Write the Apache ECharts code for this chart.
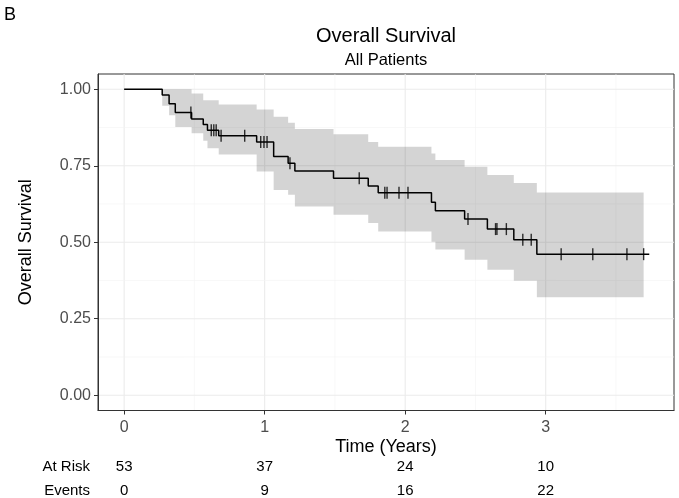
<!DOCTYPE html>
<html><head><meta charset="utf-8">
<script src="https://cdn.jsdelivr.net/npm/echarts@6/dist/echarts.min.js"></script>
<style>html,body{margin:0;padding:0;background:#fff}#c{width:679px;height:498px}</style>
</head><body><div id="c"></div>
<script>
// Kaplan-Meier step data
const times    = [0, 0.271, 0.320, 0.364, 0.480, 0.563, 0.593, 0.673, 0.943, 1.064, 1.167, 1.215, 1.490, 1.737, 1.808, 2.187, 2.215, 2.423, 2.585, 2.773, 2.937];
const survival = [1, 0.981, 0.953, 0.924, 0.903, 0.885, 0.866, 0.848, 0.828, 0.780, 0.758, 0.733, 0.709, 0.684, 0.662, 0.631, 0.603, 0.576, 0.543, 0.508, 0.461];
const upperCI  = [1, 1.000, 1.000, 1.000, 0.986, 0.964, 0.964, 0.950, 0.934, 0.910, 0.891, 0.870, 0.853, 0.828, 0.812, 0.790, 0.769, 0.747, 0.720, 0.694, 0.663];
const lowerCI  = [1, 0.946, 0.915, 0.877, 0.856, 0.832, 0.807, 0.787, 0.731, 0.671, 0.655, 0.617, 0.590, 0.563, 0.535, 0.502, 0.476, 0.443, 0.410, 0.374, 0.320];
const lastTime = 3.737;
const bandEndTime = 3.697;
const censorTimes = [0.475, 0.620, 0.638, 0.655, 0.690, 0.858, 0.972, 0.995, 1.017, 1.180, 1.673, 1.855, 1.871, 1.956, 2.020, 2.447, 2.643, 2.653, 2.720, 2.837, 2.897, 3.110, 3.335, 3.578, 3.697];
const xTicks = [0, 1, 2, 3];
const xMinor = [0.5, 1.5, 2.5, 3.5];
const yTicks = [0, 0.25, 0.5, 0.75, 1];
const yMinor = [0.125, 0.375, 0.625, 0.875];
const riskRowNames = ['At Risk', 'Events'];
const atRisk = [53, 37, 24, 10];
const events = [0, 9, 16, 22];

const FONT = "'Liberation Sans', Arial, Helvetica, sans-serif";
const xMin = -0.186, xMax = 3.913, yMin = -0.05, yMax = 1.05;

function survAt(t) {
  let s = survival[0];
  for (let i = 0; i < times.length; i++) if (times[i] <= t) s = survival[i];
  return s;
}
const n = times.length;
const kmData = times.map((t, i) => [t, survival[i]]).concat([[lastTime, survival[n - 1]]]);
const censorData = censorTimes.map(t => [t, survAt(t)]);
const bandTimes = times.concat([bandEndTime]);
const bandUpper = upperCI.concat([upperCI[n - 1]]);
const bandLower = lowerCI.concat([lowerCI[n - 1]]);
const gridData = xTicks.map(v => [v, 1, 1]).concat(xMinor.map(v => [v, 1, 0]))
  .concat(yTicks.map(v => [v, 0, 1])).concat(yMinor.map(v => [v, 0, 0]));

const chart = echarts.init(document.getElementById('c'), null, {renderer: 'canvas'});

function hiddenRiskAxis(offset, arr) {
  return {
    type: 'value', gridIndex: 0, position: 'bottom', offset: offset,
    min: xMin, max: xMax,
    axisLine: {show: false}, axisTick: {show: false}, splitLine: {show: false},
    axisLabel: {customValues: xTicks, formatter: v => String(arr[xTicks.indexOf(v)]),
      margin: 0, verticalAlign: 'middle', fontSize: 15, color: '#000', fontFamily: FONT}
  };
}

chart.setOption({
  animation: false,
  backgroundColor: '#fff',
  grid: {left: 98, right: 5, top: 74, bottom: 87, show: true, borderColor: '#333', borderWidth: 1, containLabel: false},
  xAxis: [
    {
      type: 'value', min: xMin, max: xMax,
      axisLine: {show: true, onZero: false, lineStyle: {color: '#333', width: 1}},
      axisTick: {show: true, customValues: xTicks, length: 4, lineStyle: {color: '#333', width: 1}},
      axisLabel: {customValues: xTicks, formatter: v => String(v), fontSize: 16, color: '#4d4d4d', margin: 9, fontFamily: FONT},
      splitLine: {show: false},
      name: 'Time (Years)', nameLocation: 'middle', nameGap: 28, nameMoveOverlap: false,
      nameTextStyle: {fontSize: 18, color: '#000', fontFamily: FONT}
    },
    hiddenRiskAxis(56, atRisk),
    hiddenRiskAxis(80, events)
  ],
  yAxis: {
    type: 'value', min: yMin, max: yMax,
    axisLine: {show: true, onZero: false, lineStyle: {color: '#333', width: 1}},
    axisTick: {show: true, customValues: yTicks, length: 4, lineStyle: {color: '#333', width: 1}},
    axisLabel: {customValues: yTicks, formatter: v => v.toFixed(2), fontSize: 16, color: '#4d4d4d', margin: 7, fontFamily: FONT},
    splitLine: {show: false},
    name: 'Overall Survival', nameLocation: 'middle', nameGap: 63, nameMoveOverlap: false,
    nameTextStyle: {fontSize: 18, color: '#000', fontFamily: FONT}
  },
  graphic: [
    {type: 'text', x: 4, y: 6, style: {text: 'B', fontSize: 18, fill: '#000', fontFamily: FONT}},
    {type: 'text', x: 386, y: 36, style: {text: 'Overall Survival', fontSize: 20, fill: '#000', fontFamily: FONT, textAlign: 'center', textVerticalAlign: 'middle'}},
    {type: 'text', x: 386, y: 60, style: {text: 'All Patients', fontSize: 16.5, fill: '#000', fontFamily: FONT, textAlign: 'center', textVerticalAlign: 'middle'}},
    {type: 'text', x: 90, y: 467, style: {text: riskRowNames[0], fontSize: 15, fill: '#000', fontFamily: FONT, textAlign: 'right', textVerticalAlign: 'middle'}},
    {type: 'text', x: 90, y: 491, style: {text: riskRowNames[1], fontSize: 15, fill: '#000', fontFamily: FONT, textAlign: 'right', textVerticalAlign: 'middle'}}
  ],
  series: [
    {
      type: 'custom', name: 'grid', z: 0, silent: true,
      data: gridData,
      renderItem: function (params, api) {
        const v = api.value(0), isX = api.value(1), major = api.value(2);
        const cs = params.coordSys;
        const style = {stroke: major ? '#ebebeb' : '#f4f4f4', lineWidth: major ? 1.1 : 0.6};
        if (isX) {
          const px = api.coord([v, 0])[0];
          return {type: 'line', shape: {x1: px, y1: cs.y, x2: px, y2: cs.y + cs.height}, style: style};
        }
        const py = api.coord([0, v])[1];
        return {type: 'line', shape: {x1: cs.x, y1: py, x2: cs.x + cs.width, y2: py}, style: style};
      }
    },
    {
      type: 'custom', name: 'band', z: 1, silent: true,
      data: [[0, 1]],
      renderItem: function (params, api) {
        const pts = [];
        for (let i = 0; i < bandTimes.length; i++) {
          const a = api.coord([bandTimes[i], bandUpper[i]]);
          if (i > 0) pts.push([a[0], api.coord([bandTimes[i], bandUpper[i - 1]])[1]]);
          pts.push(a);
        }
        for (let i = bandTimes.length - 1; i >= 0; i--) {
          const a = api.coord([bandTimes[i], bandLower[i]]);
          pts.push(a);
          if (i > 0) pts.push([a[0], api.coord([bandTimes[i], bandLower[i - 1]])[1]]);
        }
        return {type: 'polygon', shape: {points: pts}, style: {fill: 'rgba(0,0,0,0.17)'}};
      }
    },
    {
      type: 'line', name: 'KM', z: 3, step: 'end', data: kmData,
      showSymbol: false, symbol: 'none',
      lineStyle: {color: '#000', width: 1.5}
    },
    {
      type: 'scatter', name: 'censor', z: 4, data: censorData,
      symbol: 'rect', symbolSize: [1.4, 12],
      itemStyle: {color: '#000'}
    }
  ]
});
</script>
</body></html>
